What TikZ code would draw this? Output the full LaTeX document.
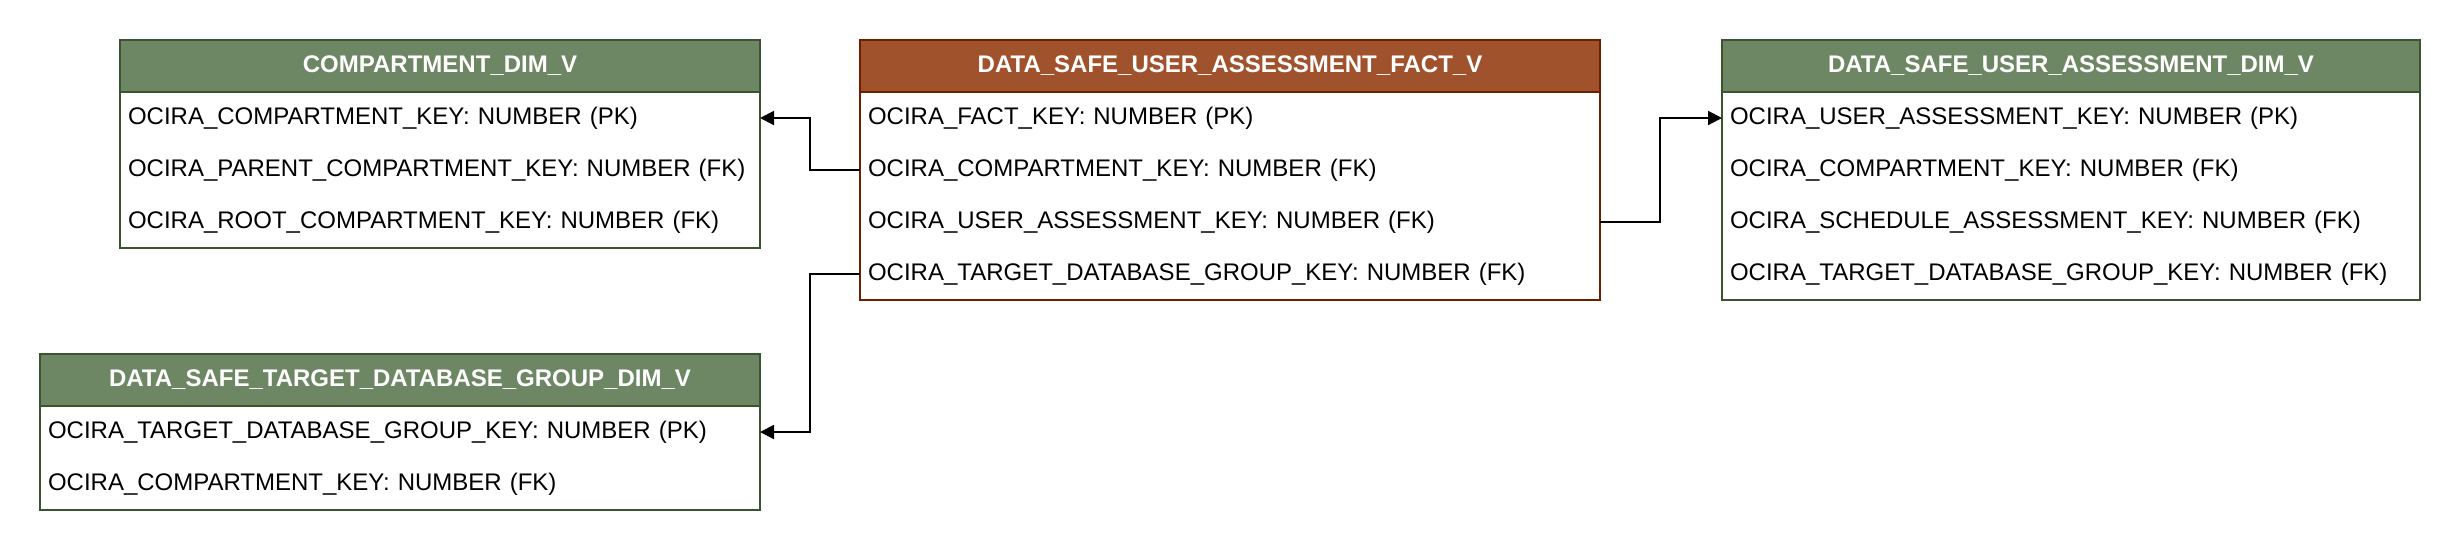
\documentclass[tikz,border=0pt]{standalone}
\usepackage{fontspec}
\setmainfont{Liberation Sans}
\usetikzlibrary{positioning,arrows.meta}
\definecolor{dimfill}{HTML}{6D8764}
\definecolor{dimline}{HTML}{3A5431}
\definecolor{factfill}{HTML}{A0522D}
\definecolor{factline}{HTML}{6D1F00}

\begin{document}
\begin{tikzpicture}[x=1pt, y=-1pt,
    hdr/.style={line width=1pt, minimum height=26pt, inner sep=0pt, outer sep=0pt, anchor=north west, text=white, font=\fontsize{12}{14}\selectfont\bfseries},
    row/.style={minimum height=26pt, inner xsep=4pt, inner ysep=0pt, outer sep=0pt, align=left, font=\fontsize{12}{14}\selectfont},
    fk/.style={line width=1pt, -{Triangle[length=7pt,width=7pt]}}]
            \useasboundingbox (0,0) rectangle (1220,274);
            %compartment table
            \node[hdr, draw=dimline, fill=dimfill, minimum width=320pt] (comp0) at (60,20) {COMPARTMENT\_DIM\_V};
            \node[row, text width=312pt, below=0pt of comp0] (comp1) {OCIRA\_COMPARTMENT\_KEY: NUMBER (PK)};
            \node[row, text width=312pt, below=0pt of comp1] (comp2) {OCIRA\_PARENT\_COMPARTMENT\_KEY: NUMBER (FK)};
            \node[row, text width=312pt, below=0pt of comp2] (comp3) {OCIRA\_ROOT\_COMPARTMENT\_KEY: NUMBER (FK)};
            \draw[dimline, line width=1pt] (comp0.south west) rectangle (comp3.south east);
            %target database group table
            \node[hdr, draw=dimline, fill=dimfill, minimum width=360pt] (tdg0) at (20,177) {DATA\_SAFE\_TARGET\_DATABASE\_GROUP\_DIM\_V};
            \node[row, text width=352pt, below=0pt of tdg0] (tdg1) {OCIRA\_TARGET\_DATABASE\_GROUP\_KEY: NUMBER (PK)};
            \node[row, text width=352pt, below=0pt of tdg1] (tdg2) {OCIRA\_COMPARTMENT\_KEY: NUMBER (FK)};
            \draw[dimline, line width=1pt] (tdg0.south west) rectangle (tdg2.south east);
            %fact table
            \node[hdr, draw=factline, fill=factfill, minimum width=370pt] (fact0) at (430,20) {DATA\_SAFE\_USER\_ASSESSMENT\_FACT\_V};
            \node[row, text width=362pt, below=0pt of fact0] (fact1) {OCIRA\_FACT\_KEY: NUMBER (PK)};
            \node[row, text width=362pt, below=0pt of fact1] (fact2) {OCIRA\_COMPARTMENT\_KEY: NUMBER (FK)};
            \node[row, text width=362pt, below=0pt of fact2] (fact3) {OCIRA\_USER\_ASSESSMENT\_KEY: NUMBER (FK)};
            \node[row, text width=362pt, below=0pt of fact3] (fact4) {OCIRA\_TARGET\_DATABASE\_GROUP\_KEY: NUMBER (FK)};
            \draw[factline, line width=1pt] (fact0.south west) rectangle (fact4.south east);
            %user assessment table
            \node[hdr, draw=dimline, fill=dimfill, minimum width=349pt] (usr0) at (861,20) {DATA\_SAFE\_USER\_ASSESSMENT\_DIM\_V};
            \node[row, text width=341pt, below=0pt of usr0] (usr1) {OCIRA\_USER\_ASSESSMENT\_KEY: NUMBER (PK)};
            \node[row, text width=341pt, below=0pt of usr1] (usr2) {OCIRA\_COMPARTMENT\_KEY: NUMBER (FK)};
            \node[row, text width=341pt, below=0pt of usr2] (usr3) {OCIRA\_SCHEDULE\_ASSESSMENT\_KEY: NUMBER (FK)};
            \node[row, text width=341pt, below=0pt of usr3] (usr4) {OCIRA\_TARGET\_DATABASE\_GROUP\_KEY: NUMBER (FK)};
            \draw[dimline, line width=1pt] (usr0.south west) rectangle (usr4.south east);
            %keys
            \draw[fk] (fact2.west) -- ++(-25,0) |- (comp1.east);
            \draw[fk] (fact4.west) -- ++(-25,0) |- (tdg1.east);
            \draw[fk] (fact3.east) -- ++(30,0) |- (usr1.west);
        \end{tikzpicture}
\end{document}
